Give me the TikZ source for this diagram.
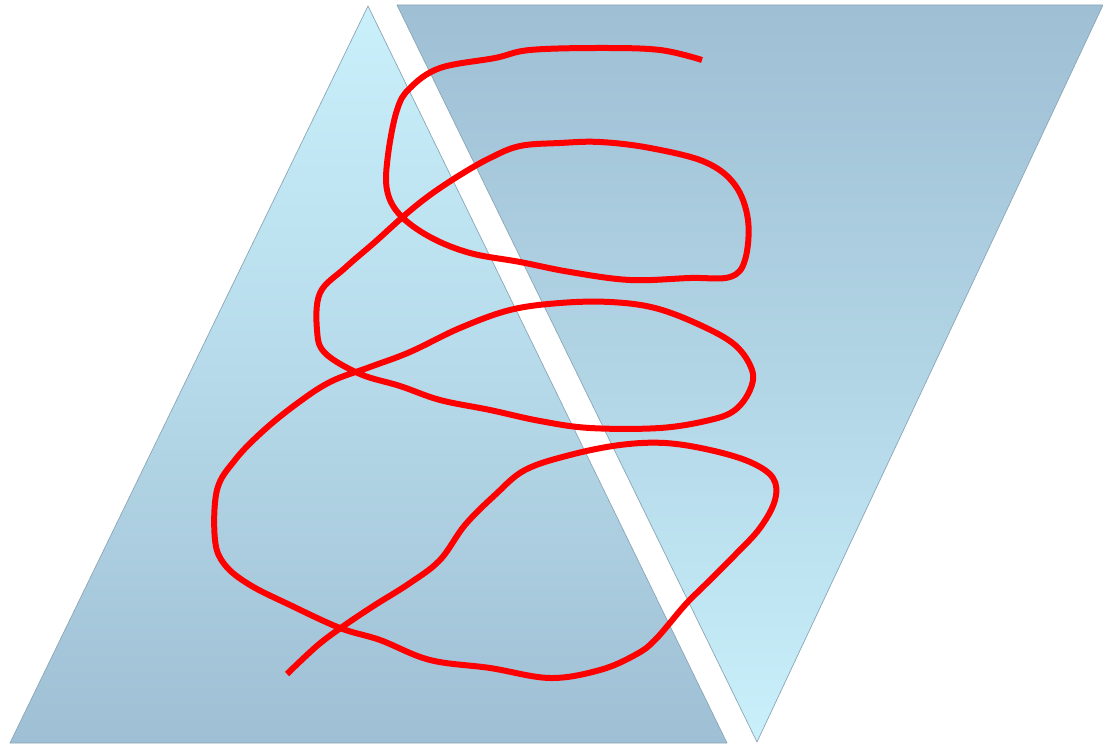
\documentclass[tikz,border=0pt]{standalone}
\usepackage{tikz}
\usetikzlibrary{calc}
\usepackage{xcolor}
\definecolor{PrismLight}{HTML}{C9F0FB}
\definecolor{PrismDeep}{HTML}{9FBFD4}
\definecolor{PrismEdge}{HTML}{8BA6B6}
\definecolor{ScribbleRed}{HTML}{FF0000}

\begin{document}
\begin{tikzpicture}[x=0.02cm,y=-0.02cm,line join=round]
  \useasboundingbox (0,0) rectangle (1103,746);
  % upward triangle
  \shade[top color=PrismLight,bottom color=PrismDeep,middle color=PrismLight!55!PrismDeep]
    (368,6)--(727,743)--(10,743)--cycle;
  \draw[PrismEdge,thin] (368,6)--(727,743)--(10,743)--cycle;
  % downward triangle
  \shade[top color=PrismDeep,bottom color=PrismLight,middle color=PrismLight!45!PrismDeep]
    (397,5)--(1103,5)--(757,742)--cycle;
  \draw[PrismEdge,thin] (397,5)--(1103,5)--(757,742)--cycle;
  % scribble
  \draw[ScribbleRed,line width=0.12cm,line cap=butt] plot[smooth,tension=0.6] coordinates {
    (287,674) (318,645) (345,625) (375,605) (410,583) (440,560) (465,525)
    (495,495) (525,470) (570,455) (620,445) (665,443) (710,450) (750,462)
    (773,478) (775,500) (760,528) (735,555) (705,585) (685,605) (655,640)
    (635,655) (600,670) (550,678) (490,668) (430,660) (380,640) (340,628)
    (290,605) (250,585) (225,565) (215,540) (217,490) (235,460) (262,432)
    (295,405) (330,382) (370,367) (410,352) (460,328) (510,310) (560,303)
    (610,302) (655,308) (700,325) (735,345) (752,370) (750,390) (735,410)
    (710,420) (660,428) (590,428) (540,421) (490,410) (440,400) (400,386)
    (360,374) (325,353) (317,330) (320,293) (345,268) (375,242) (405,215)
    (430,195) (460,175) (490,158) (520,146) (560,143) (600,142) (650,148)
    (705,162) (735,185) (748,220) (745,260) (730,277) (690,278) (630,280)
    (570,272) (520,262) (470,253) (430,237) (400,215) (387,190) (388,155)
    (397,110) (410,88) (440,68) (495,58) (530,50) (600,48) (660,50) (702,60)};
\end{tikzpicture}
\end{document}
